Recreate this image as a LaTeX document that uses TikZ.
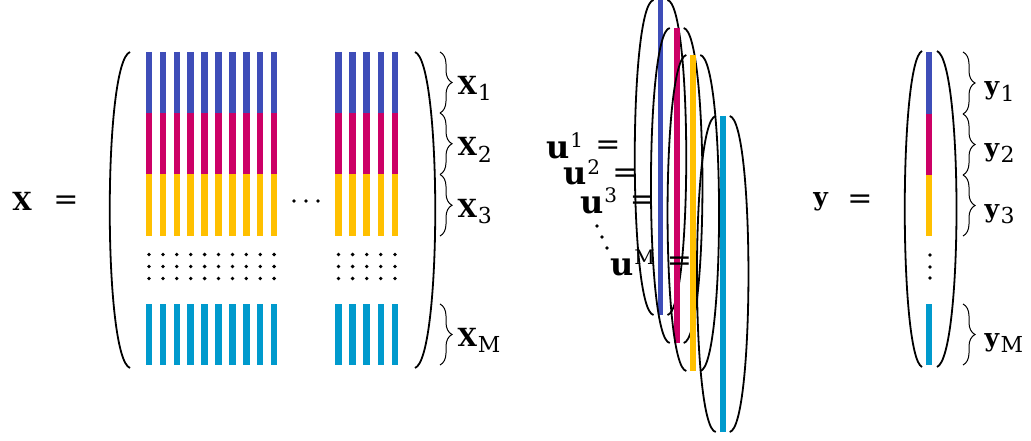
\documentclass[tikz,border=0pt]{standalone}
\usepackage{fontspec}
\setmainfont{DejaVu Serif}
\usepackage{tikz}
\usetikzlibrary{positioning,decorations.pathreplacing}
\definecolor{Blue}{HTML}{3E4DB8}
\definecolor{Magenta}{HTML}{CC0066}
\definecolor{Amber}{HTML}{FFC000}
\definecolor{Cyan}{HTML}{009ACD}
% index below / above, set as text
\newcommand{\lowr}[1]{\kern1pt\raisebox{-0.26em}{\fontsize{22}{22}\selectfont #1}}
\newcommand{\upr}[1]{\kern1pt\raisebox{0.34em}{\fontsize{20}{20}\selectfont #1}}
% one column of the data matrix
\newcommand{\xcol}[1]{%
  \draw[bar,Blue] (#1,52) -- (#1,113);
  \draw[bar,Magenta] (#1,113) -- (#1,174.5);
  \draw[bar,Amber] (#1,174.5) -- (#1,236);
  \foreach \d in {254.5,266.5,278.5} \fill (#1,\d) circle (1.9);
  \draw[bar,Cyan] (#1,304) -- (#1,365);
}
% one stretched column in its own parentheses
\newcommand{\slice}[4]{%
  \draw[sbar,#1] (#2,#3) -- (#2,#4);
  \draw[paren] (#2-7,#3) .. controls (#2-32,#3+5) and (#2-32,#4-5) .. (#2-7,#4);
  \draw[paren] (#2+7,#3) .. controls (#2+32,#3+5) and (#2+32,#4-5) .. (#2+7,#4);
}
\tikzset{
  bar/.style={line width=6.5pt},
  sbar/.style={line width=5.7pt},
  paren/.style={line width=1.8pt,draw=black},
  grp/.style={decorate,decoration={brace,amplitude=12pt},line width=1pt},
  lbl/.style={font=\fontsize{25}{30}\selectfont,inner sep=0pt},
  eqs/.style={font=\fontsize{30}{34}\selectfont,inner sep=0pt},
  ulbl/.style={font=\fontsize{32}{36}\selectfont,inner sep=0pt}
}

\begin{document}
\begin{tikzpicture}[x=1pt,y=-1pt]
  \useasboundingbox (0,0) rectangle (1031,441);

  % X
  \node[lbl] (Xname) at (22,201) {\textbf{X}};
  \node[eqs] (Xeq) at (66,203) {=};
  \foreach \i in {0,...,9}{\pgfmathsetmacro\cx{149+13.9*\i}\xcol{\cx}}
  \foreach \i in {0,...,4}{\pgfmathsetmacro\cx{338.5+14.1*\i}\xcol{\cx}}
  \foreach \hx in {294,306,318} \fill (\hx,201) circle (1.9);
  \draw[paren] (130,52) .. controls (103,62) and (103,358) .. (130,368);
  \draw[paren] (415,52) .. controls (442,62) and (442,358) .. (415,368);
  \draw[grp] (440,52) -- (440,113)
    node[lbl,midway,anchor=base west,xshift=17pt,yshift=-11.8pt] (X1) {\textbf{X}\lowr{1}};
  \draw[grp] (440,113) -- (440,174.5)
    node[lbl,midway,anchor=base west,xshift=17pt,yshift=-11.8pt] (X2) {\textbf{X}\lowr{2}};
  \draw[grp] (440,174.5) -- (440,236)
    node[lbl,midway,anchor=base west,xshift=17pt,yshift=-11.8pt] (X3) {\textbf{X}\lowr{3}};
  \draw[grp] (440,304) -- (440,365)
    node[lbl,midway,anchor=base west,xshift=17pt,yshift=-11.8pt] (XM) {\textbf{X}\lowr{M}};

  % u^1 ... u^M
  \slice{Blue}{660.5}{0}{315}
  \slice{Magenta}{676.7}{28}{343}
  \slice{Amber}{693.3}{55}{371}
  \slice{Cyan}{722.7}{116}{432}
  \node[ulbl,anchor=base west] (u1) at (546,158) {\textbf{u}\upr{1}};
  \node[ulbl,anchor=base west] (u2) at (563,185) {\textbf{u}\upr{2}};
  \node[ulbl,anchor=base west] (u3) at (580,213) {\textbf{u}\upr{3}};
  \node[ulbl,anchor=base west] (uM) at (610,275) {\textbf{u}\upr{M}};
  \node[eqs] (eq1) at (608,147.5) {=};
  \node[eqs] (eq2) at (625,176) {=};
  \node[eqs] (eq3) at (642.5,203) {=};
  \node[eqs] (eqM) at (679.5,264) {=};
  \foreach \dx/\dy in {597/226,602/237,607/248} \fill (\dx,\dy) circle (1.9);

  % y
  \node[lbl] (yname) at (821,202) {\textbf{y}};
  \node[eqs] (yeq) at (860,202) {=};
  \draw[bar,Blue] (929,52) -- (929,114);
  \draw[bar,Magenta] (929,114) -- (929,175);
  \draw[bar,Amber] (929,175) -- (929,236);
  \foreach \d in {255,267,278} \fill (930,\d) circle (1.9);
  \draw[bar,Cyan] (929,304) -- (929,365);
  \draw[paren] (922,51) .. controls (899,62) and (899,356) .. (922,367);
  \draw[paren] (937,51) .. controls (963,62) and (963,356) .. (937,367);
  \draw[grp] (963,52) -- (963,114)
    node[lbl,midway,anchor=base west,xshift=21pt,yshift=-11.8pt] (y1) {\textbf{y}\lowr{1}};
  \draw[grp] (963,114) -- (963,175)
    node[lbl,midway,anchor=base west,xshift=21pt,yshift=-11.8pt] (y2) {\textbf{y}\lowr{2}};
  \draw[grp] (963,175) -- (963,236)
    node[lbl,midway,anchor=base west,xshift=21pt,yshift=-11.8pt] (y3) {\textbf{y}\lowr{3}};
  \draw[grp] (963,304) -- (963,365)
    node[lbl,midway,anchor=base west,xshift=21pt,yshift=-11.8pt] (yM) {\textbf{y}\lowr{M}};
\end{tikzpicture}
\end{document}
